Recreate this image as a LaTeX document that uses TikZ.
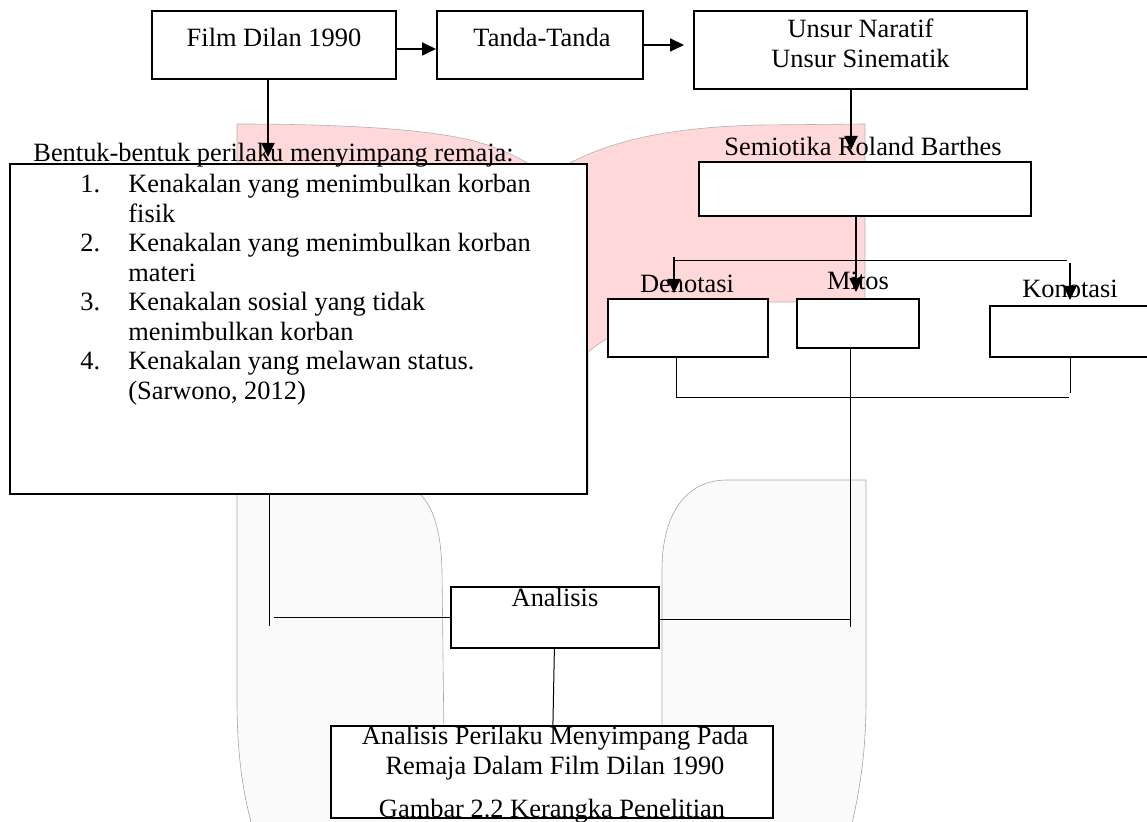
\documentclass[tikz,border=0pt]{standalone}
\usepackage{fontspec}
\setmainfont{Liberation Serif}
\usetikzlibrary{positioning,arrows.meta}
\tikzset{>={Triangle[length=7pt,width=6.5pt]}}
\tikzset{
  kotak/.style={draw=black,fill=white,line width=1pt,inner sep=0pt},
  teks/.style={inner sep=0pt,font=\fontsize{13.2}{14.75}\selectfont},
  garis/.style={line width=0.5pt},
  panah/.style={->,line width=0.9pt},
}
\definecolor{pinkwm}{RGB}{255,216,218}
\definecolor{abuwm}{RGB}{250,250,250}

\begin{document}
\begin{tikzpicture}[x=0.5pt,y=-0.5pt]
\useasboundingbox (0,0) rectangle (1147,822);
\clip (0,0) rectangle (1147,822);

% watermark di belakang
\path[fill=pinkwm,draw=black!30,line width=0.3pt] (237,494) -- (237,124) .. controls (330,124) and (420,128) .. (470,140) .. controls (510,150) and (530,165) .. (548,175) .. controls (590,150) and (640,128) .. (760,125) -- (865,124) -- (865,302) -- (770,302) .. controls (690,304) and (630,318) .. (588,352) -- (588,494) -- cycle;
\path[fill=abuwm,draw=black!35,line width=0.3pt] (237,470) -- (415,470) -- (420,494) .. controls (433,507) and (441,530) .. (442,570) -- (444,740) -- (662,740) -- (662,570) .. controls (662,515) and (685,480) .. (727,480) -- (866,480) -- (866,700) .. controls (866,760) and (858,800) .. (848,840) -- (256,840) .. controls (244,800) and (237,760) .. (237,700) -- cycle;

\node[kotak,minimum width=122pt,minimum height=34pt] (1) at (274,45) {};
\node[kotak,minimum width=103pt,minimum height=34pt] (2) at (540,45) {};
\node[kotak,minimum width=166.5pt,minimum height=39pt] (3) at (860.5,50) {};
\node[kotak,minimum width=166pt,minimum height=27pt] (4) at (865,189) {};
\node[kotak,minimum width=288.5pt,minimum height=165pt] (5) at (298.5,329) {};
\node[kotak,minimum width=80pt,minimum height=29pt] (6) at (688,328) {};
\node[kotak,minimum width=61pt,minimum height=24.5pt] (7) at (858,323.5) {};
\node[kotak,minimum width=87.5pt,minimum height=25.5pt] (8) at (1077.5,331.5) {};
\node[kotak,minimum width=104pt,minimum height=30.5pt] (9) at (555,617.5) {};
\node[kotak,minimum width=221pt,minimum height=46pt] (10) at (552,772) {};

\coordinate (h1) at (0,49);
\coordinate (f1) at (268,157);
\coordinate (u1) at (851,150);
\coordinate (s1) at (856,292);
\coordinate (d1) at (674,257);
\coordinate (d2) at (674,293);
\coordinate (b1) at (675,261);
\coordinate (b2) at (1067,261);
\coordinate (k1) at (1070,263);
\coordinate (k2) at (1070,300);
\coordinate (g1) at (676,398);
\coordinate (g2) at (1069,398);
\coordinate (g3) at (1070,393);
\coordinate (m1) at (850,627);
\coordinate (m2) at (850,620);
\coordinate (l1) at (269,626);
\coordinate (l2) at (274,618);

\draw[panah] (1.east |- h1) -- (2.west |- h1);
\draw[panah,shorten >=4.5pt] (2) -- (2 -| 3.west);
\draw[panah] (1.south -| f1) -- (f1);
\draw[panah] (3.south -| u1) -- (u1);
\draw[panah] (4.south -| s1) -- (s1);
\draw[garis] (b1) -- (b2);
\draw[panah] (d1) -- (d2);
\draw[panah] (k1) -- (k2);
\draw[garis] (6.south -| g1) -- (g1) -- (g2);
\draw[garis] (g3) -- (8.south -| g3);
\draw[garis] (7.south -| m1) -- (m1);
\draw[garis] (9.east |- m2) -- (m2);
\draw[garis] (5.south -| l1) -- (l1);
\draw[garis] (l2) -- (9.west |- l2);
\draw[garis] (9) -- (10);

\node[teks,anchor=base] (1t) at (274,47) {Film Dilan 1990};
\node[teks,anchor=base] (2t) at (542,47) {Tanda-Tanda};
\node[teks,anchor=base] (3t) at (860.5,38) {\begin{tabular}[t]{@{}c@{}}Unsur Naratif\\ Unsur Sinematik\end{tabular}};
\node[teks,anchor=base] (4t) at (863,156) {Semiotika Roland Barthes};
\node[teks,anchor=base west] (5t) at (33,162) {Bentuk-bentuk perilaku menyimpang remaja:};
\node[teks,anchor=base west] (5l) at (80,193) {\begin{tabular}[t]{@{}p{24pt}@{}l@{}}
1. & Kenakalan yang menimbulkan korban\\
   & fisik\\
2. & Kenakalan yang menimbulkan korban\\
   & materi\\
3. & Kenakalan sosial yang tidak\\
   & menimbulkan korban\\
4. & Kenakalan yang melawan status.\\
   & (Sarwono, 2012)
\end{tabular}};
\node[teks,anchor=base] (6t) at (687,293) {Denotasi};
\node[teks,anchor=base] (7t) at (858,290) {Mitos};
\node[teks,anchor=base] (8t) at (1070,298) {Konotasi};
\node[teks,anchor=base] (9t) at (555,607) {Analisis};
\node[teks,anchor=base] (10t) at (555,745) {\begin{tabular}[t]{@{}c@{}}Analisis Perilaku Menyimpang Pada\\ Remaja Dalam Film Dilan 1990\end{tabular}};
\node[teks,anchor=base] (11) at (552,818) {Gambar 2.2 Kerangka Penelitian};

\end{tikzpicture}
\end{document}
